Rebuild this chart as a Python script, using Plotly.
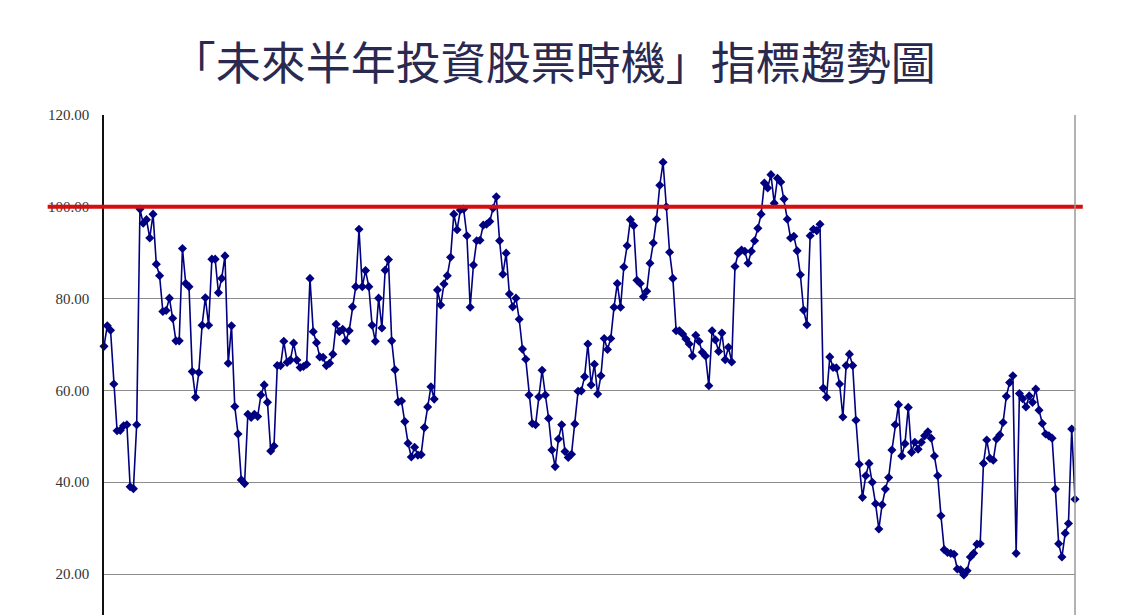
import plotly.graph_objects as go

title_text = "「未來半年投資股票時機」指標趨勢圖"

# monthly index values
index_values = [
    69.6, 74.1, 73.1, 61.4, 51.2, 51.3, 52.3, 52.5, 39.0, 38.6,
    52.5, 99.5, 96.4, 97.2, 93.2, 98.4, 87.5, 85.0, 77.2, 77.4,
    80.1, 75.7, 70.8, 70.8, 90.9, 83.3, 82.6, 64.1, 58.5, 63.9,
    74.2, 80.2, 74.2, 88.6, 88.6, 81.3, 84.4, 89.3, 65.9, 74.1,
    56.5, 50.5, 40.5, 39.7, 54.8, 54.1, 54.8, 54.3, 59.0, 61.2,
    57.4, 46.8, 47.9, 65.4, 65.4, 70.7, 66.1, 66.6, 70.3, 66.6,
    65.0, 65.2, 65.7, 84.4, 72.8, 70.4, 67.3, 67.2, 65.4, 65.9,
    67.9, 74.4, 72.8, 73.3, 70.8, 73.0, 78.2, 82.6, 95.1, 82.6,
    86.1, 82.6, 74.2, 70.7, 80.1, 73.6, 86.2, 88.5, 70.8, 64.5,
    57.5, 57.7, 53.2, 48.5, 45.5, 47.6, 45.9, 46.0, 51.9, 56.4,
    60.8, 58.1, 81.9, 78.6, 83.2, 85.0, 89.0, 98.4, 95.0, 99.3,
    99.5, 93.7, 78.1, 87.3, 92.6, 92.7, 96.0, 96.2, 96.8, 99.7,
    102.2, 92.6, 85.3, 89.9, 81.0, 78.2, 80.1, 75.5, 69.0, 66.8,
    59.0, 52.8, 52.5, 58.6, 64.4, 59.0, 53.9, 47.0, 43.4, 49.4,
    52.5, 46.7, 45.4, 46.1, 52.7, 59.8, 59.9, 63.0, 70.1, 61.2,
    65.7, 59.2, 63.2, 71.3, 68.9, 71.3, 78.1, 83.3, 78.1, 86.9,
    91.5, 97.2, 95.9, 84.0, 83.3, 80.4, 81.6, 87.7, 92.1, 97.3,
    104.7, 109.7, 100.0, 90.1, 84.4, 73.0, 73.0, 72.3, 71.2, 70.1,
    67.5, 72.0, 70.7, 68.3, 67.5, 61.0, 73.0, 71.0, 68.5, 72.5,
    66.7, 69.4, 66.2, 87.0, 89.9, 90.6, 90.3, 87.7, 90.3, 92.6,
    95.3, 98.4, 105.2, 104.1, 107.0, 100.8, 106.2, 105.4, 101.7, 97.3,
    93.2, 93.6, 90.4, 85.2, 77.5, 74.3, 93.7, 95.1, 94.8, 96.2,
    60.5, 58.5, 67.3, 65.0, 64.9, 61.4, 54.2, 65.4, 67.9, 65.4,
    53.5, 43.9, 36.7, 41.4, 44.1, 40.0, 35.3, 29.8, 35.1, 38.5,
    41.0, 47.0, 52.5, 56.9, 45.7, 48.4, 56.3, 46.5, 48.7, 47.2,
    48.7, 50.1, 51.0, 49.6, 45.7, 41.4, 32.7, 25.3, 24.7, 24.5,
    24.3, 21.1, 20.9, 19.8, 20.7, 23.7, 24.5, 26.5, 26.6, 44.1,
    49.2, 45.2, 44.8, 49.4, 50.3, 53.0, 58.7, 61.7, 63.2, 24.5,
    59.3, 58.2, 56.4, 58.8, 57.4, 60.3, 55.7, 52.8, 50.5, 50.1,
    49.6, 38.5, 26.6, 23.7, 28.9, 31.0, 51.6, 36.3,
]
months = list(range(len(index_values)))

threshold = 100
y_ticks = [20, 40, 60, 80, 100, 120]

fig = go.Figure()
fig.add_trace(go.Scatter(
    x=months, y=index_values, mode="lines+markers",
    line=dict(color="#000080", width=1.6),
    marker=dict(symbol="diamond", size=7, color="#000080"),
    cliponaxis=False, showlegend=False,
))

# red timing line at 100, sticks out a bit past the plot on both sides
fig.add_shape(type="line", xref="paper", yref="y",
              x0=-0.058, x1=1.008, y0=threshold, y1=threshold,
              line=dict(color="#d40f0f", width=4), layer="above")
# right border of the plot area
fig.add_shape(type="line", xref="paper", yref="paper",
              x0=1, x1=1, y0=0, y1=1,
              line=dict(color="#999999", width=1.5))

# page body has an 8px margin, so the figure is a bit smaller than the window
fig.update_layout(
    width=1113, height=607,
    margin=dict(l=96, r=46, t=107, b=0),
    paper_bgcolor="white", plot_bgcolor="white",
    title=dict(text=title_text, x=0.49, xanchor="center", y=0.907, yanchor="middle",
               font=dict(family="Noto Sans CJK TC", size=45, color="#2a2a50")),
    xaxis=dict(range=[0, len(index_values) - 1], showgrid=False, zeroline=False,
               showticklabels=False, showline=False, ticks=""),
    yaxis=dict(range=[120 - 500 * 20 / 91.8, 120], tickvals=y_ticks,
               tickformat=".2f", showgrid=True, gridcolor="#8c8c8c", gridwidth=1,
               zeroline=False, showline=True, linecolor="#111111", linewidth=1.5,
               ticks="", ticklen=0, ticklabelstandoff=10,
               tickfont=dict(family="Liberation Serif", size=15, color="#333333")),
)

fig.write_html("out.html")
